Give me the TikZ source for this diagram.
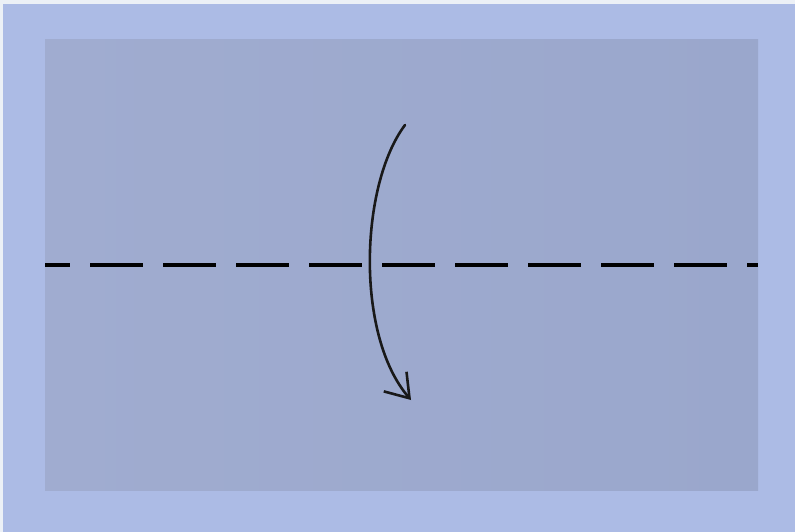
\documentclass[tikz,border=0pt]{standalone}
\usetikzlibrary{arrows.meta}
\definecolor{bgblue}{RGB}{172,187,229}
\definecolor{paper}{RGB}{160,172,208}
\definecolor{paperR}{RGB}{154,167,204}
\definecolor{edge}{RGB}{236,240,246}
\tikzset{
  foldline/.style={line width=4pt, black, dash pattern=on 53pt off 20pt, dash phase=28pt},
  foldarrow/.style={line width=2.6pt, black!90, line cap=round,
    -{Straight Barb[length=22pt, width=30pt, line width=2.6pt]}}
}
\begin{document}
\begin{tikzpicture}[x=1pt,y=-1pt]
\useasboundingbox (0,0) rectangle (795,532);
\fill[bgblue] (0,0) rectangle (795,532);
\fill[edge] (0,0) rectangle (795,4);
\fill[edge] (0,0) rectangle (3,532);
\shade[left color=paper, right color=paperR] (45,40) rectangle (758,490);
\coordinate (dl) at (45,265);
\coordinate (dr) at (758,265);
\draw[foldline] (dl) -- (dr);
\coordinate (as) at (405,125);
\coordinate (ae) at (411,400);
\draw[foldarrow] (as) .. controls (360,185) and (355,335) .. (ae);
\end{tikzpicture}
\end{document}
